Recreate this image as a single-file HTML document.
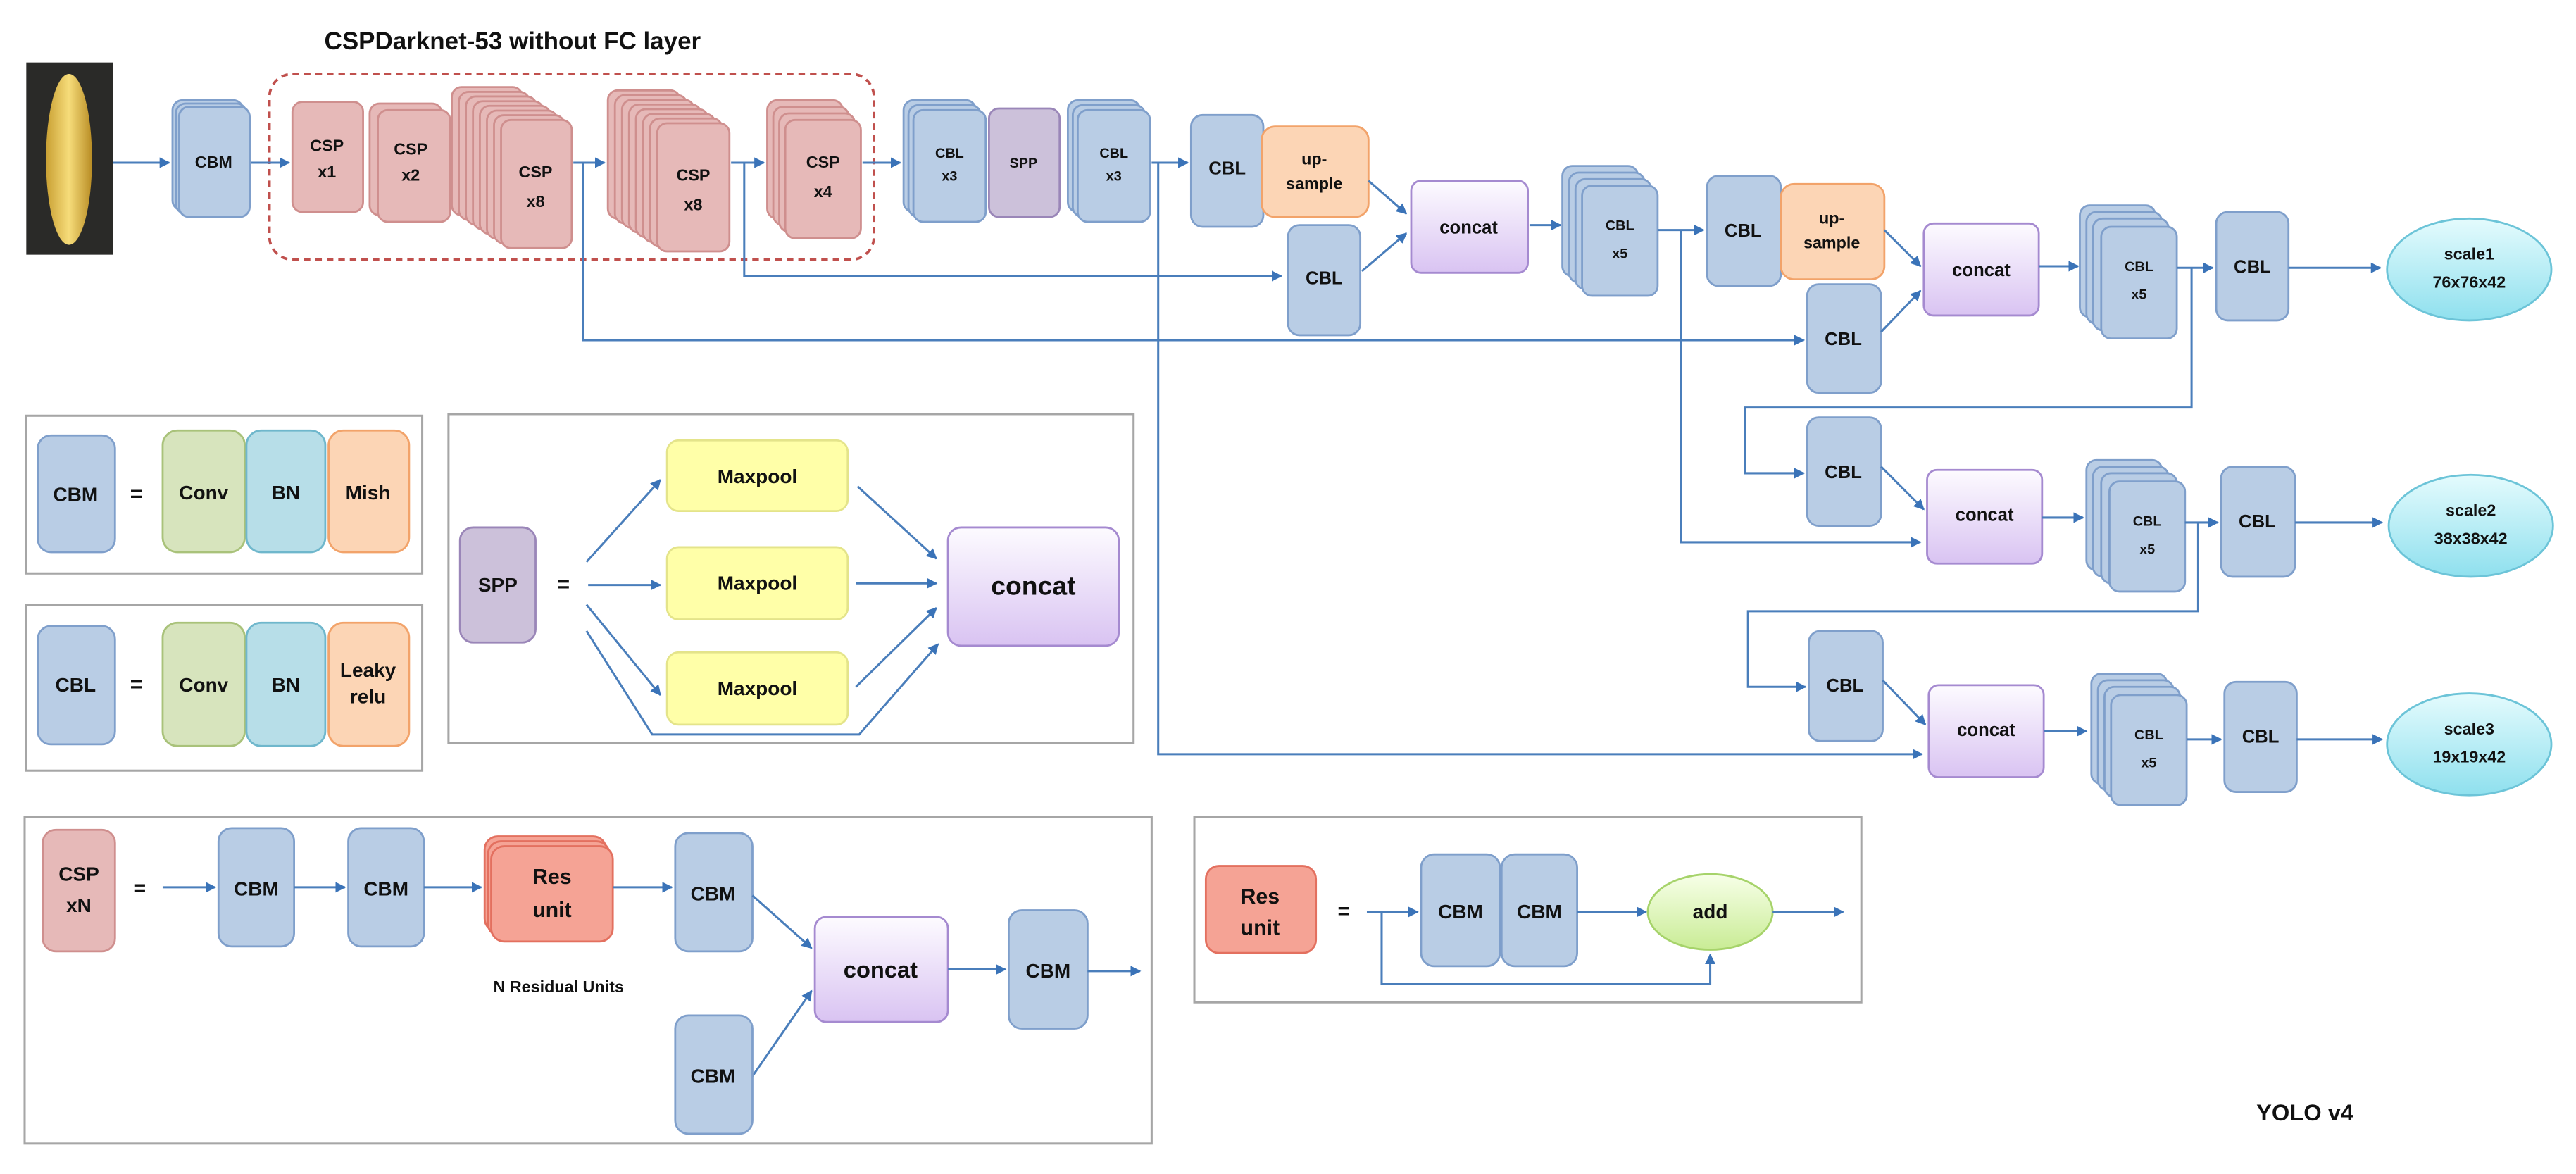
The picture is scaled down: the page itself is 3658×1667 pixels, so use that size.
<!DOCTYPE html>
<html><head><meta charset="utf-8"><style>
html,body{margin:0;padding:0;background:#fff;}
svg{display:block;}
text{font-family:"Liberation Sans",sans-serif;font-weight:bold;fill:#111;text-anchor:middle;}
.b{fill:#b9cde5;stroke:#7f9fcb;stroke-width:1.2;}
.p{fill:#e6b9b8;stroke:#cf8f8e;stroke-width:1.2;}
.s{fill:#ccc1da;stroke:#9a86b8;stroke-width:1.2;}
.o{fill:#fcd5b5;stroke:#f2a36a;stroke-width:1.2;}
.c{fill:url(#cg);stroke:#a58ad0;stroke-width:1.2;}
.m{fill:#ffffa8;stroke:#e4e48a;stroke-width:1.2;}
.g{fill:#d7e4bd;stroke:#a9c27a;stroke-width:1.2;}
.n{fill:#b7dee8;stroke:#6fb7cc;stroke-width:1.2;}
.r{fill:#f5a395;stroke:#e3705f;stroke-width:1.2;}
.a{stroke:#4a7ebb;stroke-width:1.3;fill:none;}
.aa{stroke:#4a7ebb;stroke-width:1.3;fill:none;marker-end:url(#ar);}
.panel{fill:#fff;stroke:#a6a6a6;stroke-width:1.3;}
</style></head><body>
<svg width="3658" height="1667" viewBox="0 0 1568 714.5" preserveAspectRatio="none" xmlns="http://www.w3.org/2000/svg">
<defs>
<marker id="ar" viewBox="0 0 10 10" refX="9" refY="5" markerWidth="5" markerHeight="5" orient="auto"><path d="M0,0 L10,5 L0,10 z" fill="#3a73b8"/></marker>
<linearGradient id="cg" x1="0" y1="0" x2="0" y2="1"><stop offset="0" stop-color="#fdfbff"/><stop offset="1" stop-color="#d9c3f2"/></linearGradient>
<linearGradient id="eg" x1="0" y1="0" x2="0" y2="1"><stop offset="0" stop-color="#e4fbfd"/><stop offset="1" stop-color="#8fe0ee"/></linearGradient>
<linearGradient id="ag" x1="0" y1="0" x2="0" y2="1"><stop offset="0" stop-color="#f7ffe8"/><stop offset="1" stop-color="#c9ec95"/></linearGradient>
<linearGradient id="corn" x1="0" y1="0" x2="1" y2="0"><stop offset="0" stop-color="#c9a033"/><stop offset="0.5" stop-color="#f6dc7a"/><stop offset="1" stop-color="#b98d25"/></linearGradient>
</defs>

<!-- title -->
<text x="312" y="30" font-size="15">CSPDarknet-53 without FC layer</text>
<!-- image -->
<rect x="16" y="38" width="53" height="117" fill="#2a2a28"/>
<ellipse cx="42" cy="97" rx="14" ry="52" fill="url(#corn)"/>

<!-- dashed box -->
<rect x="164" y="45" width="368" height="113" rx="14" fill="none" stroke="#c0504d" stroke-width="1.6" stroke-dasharray="4,3"/>

<!-- top arrows -->
<line class="aa" x1="69" y1="99" x2="103" y2="99"/>
<line class="aa" x1="153" y1="99" x2="176" y2="99"/>
<line class="aa" x1="349" y1="99" x2="368" y2="99"/>
<line class="aa" x1="445" y1="99" x2="465" y2="99"/>
<line class="aa" x1="525" y1="99" x2="548" y2="99"/>
<line class="aa" x1="701" y1="99" x2="723" y2="99"/>

<!-- CBM stack -->
<rect class="b" x="105" y="61" width="43" height="67" rx="6"/>
<rect class="b" x="107" y="63" width="43" height="67" rx="6"/>
<rect class="b" x="109" y="65" width="43" height="67" rx="6"/>
<text x="130" y="102" font-size="10">CBM</text>

<!-- CSP x1 -->
<rect class="p" x="178" y="62" width="43" height="67" rx="6"/>
<text x="199" y="92" font-size="10">CSP</text><text x="199" y="108" font-size="10">x1</text>
<!-- CSP x2 -->
<rect class="p" x="225" y="63" width="44" height="68" rx="6"/>
<rect class="p" x="230" y="67" width="44" height="68" rx="6"/>
<text x="250" y="94" font-size="10">CSP</text><text x="250" y="110" font-size="10">x2</text>
<!-- CSP x8 a -->
<g>
<rect class="p" x="275" y="53" width="43" height="78" rx="6"/>
<rect class="p" x="279.3" y="55.9" width="43" height="78" rx="6"/>
<rect class="p" x="283.6" y="58.7" width="43" height="78" rx="6"/>
<rect class="p" x="287.9" y="61.6" width="43" height="78" rx="6"/>
<rect class="p" x="292.1" y="64.4" width="43" height="78" rx="6"/>
<rect class="p" x="296.4" y="67.3" width="43" height="78" rx="6"/>
<rect class="p" x="300.7" y="70.1" width="43" height="78" rx="6"/>
<rect class="p" x="305" y="73" width="43" height="78" rx="6"/>
</g>
<text x="326" y="108" font-size="10">CSP</text><text x="326" y="126" font-size="10">x8</text>
<!-- CSP x8 b -->
<g>
<rect class="p" x="370" y="55" width="44" height="78" rx="6"/>
<rect class="p" x="374.3" y="57.9" width="44" height="78" rx="6"/>
<rect class="p" x="378.6" y="60.7" width="44" height="78" rx="6"/>
<rect class="p" x="382.9" y="63.6" width="44" height="78" rx="6"/>
<rect class="p" x="387.1" y="66.4" width="44" height="78" rx="6"/>
<rect class="p" x="391.4" y="69.3" width="44" height="78" rx="6"/>
<rect class="p" x="395.7" y="72.1" width="44" height="78" rx="6"/>
<rect class="p" x="400" y="75" width="44" height="78" rx="6"/>
</g>
<text x="422" y="110" font-size="10">CSP</text><text x="422" y="128" font-size="10">x8</text>
<!-- CSP x4 -->
<rect class="p" x="467" y="61" width="46" height="72" rx="6"/>
<rect class="p" x="470.7" y="65" width="46" height="72" rx="6"/>
<rect class="p" x="474.3" y="69" width="46" height="72" rx="6"/>
<rect class="p" x="478" y="73" width="46" height="72" rx="6"/>
<text x="501" y="102" font-size="10">CSP</text><text x="501" y="120" font-size="10">x4</text>

<!-- CBL x3 -->
<rect class="b" x="550" y="61" width="44" height="68" rx="6"/>
<rect class="b" x="553" y="64" width="44" height="68" rx="6"/>
<rect class="b" x="556" y="67" width="44" height="68" rx="6"/>
<text x="578" y="96" font-size="8.5">CBL</text><text x="578" y="110" font-size="8.5">x3</text>
<!-- SPP -->
<rect class="s" x="602" y="66" width="43" height="66" rx="6"/>
<text x="623" y="102" font-size="8.5">SPP</text>
<!-- CBL x3 -->
<rect class="b" x="650" y="61" width="44" height="68" rx="6"/>
<rect class="b" x="653" y="64" width="44" height="68" rx="6"/>
<rect class="b" x="656" y="67" width="44" height="68" rx="6"/>
<text x="678" y="96" font-size="8.5">CBL</text><text x="678" y="110" font-size="8.5">x3</text>

<!-- CBL, upsample -->
<rect class="b" x="725" y="70" width="44" height="68" rx="7"/>
<text x="747" y="106" font-size="11">CBL</text>
<rect class="o" x="768" y="77" width="65" height="55" rx="8"/>
<text x="800" y="100" font-size="10">up-</text><text x="800" y="115" font-size="10">sample</text>
<rect class="b" x="784" y="137" width="44" height="67" rx="7"/>
<text x="806" y="173" font-size="11">CBL</text>

<!-- skip lines -->
<polyline class="a" points="453,99 453,168 780,168" marker-end="url(#ar)"/>
<polyline class="a" points="355,99 355,207 1098,207" marker-end="url(#ar)"/>
<polyline class="a" points="705,99 705,459 1170,459" marker-end="url(#ar)"/>

<line class="aa" x1="833" y1="110" x2="856" y2="130"/>
<line class="aa" x1="829" y1="165" x2="856" y2="142"/>
<!-- concat1 -->
<rect class="c" x="859" y="110" width="71" height="56" rx="6"/>
<text x="894" y="142" font-size="11">concat</text>
<line class="aa" x1="931" y1="137" x2="950" y2="137"/>
<!-- CBL x5 -->
<rect class="b" x="951" y="101" width="46" height="67" rx="6"/>
<rect class="b" x="955" y="105" width="46" height="67" rx="6"/>
<rect class="b" x="959" y="109" width="46" height="67" rx="6"/>
<rect class="b" x="963" y="113" width="46" height="67" rx="6"/>
<text x="986" y="140" font-size="8.5">CBL</text><text x="986" y="157" font-size="8.5">x5</text>
<line class="aa" x1="1009" y1="140" x2="1037" y2="140"/>
<polyline class="a" points="1023,140 1023,330 1169,330" marker-end="url(#ar)"/>
<rect class="b" x="1039" y="107" width="45" height="67" rx="7"/>
<text x="1061" y="144" font-size="11">CBL</text>
<rect class="o" x="1084" y="112" width="63" height="58" rx="8"/>
<text x="1115" y="136" font-size="10">up-</text><text x="1115" y="151" font-size="10">sample</text>
<rect class="b" x="1100" y="173" width="45" height="66" rx="7"/>
<text x="1122" y="210" font-size="11">CBL</text>
<line class="aa" x1="1147" y1="140" x2="1169" y2="162"/>
<line class="aa" x1="1145" y1="202" x2="1169" y2="177"/>
<rect class="c" x="1171" y="136" width="70" height="56" rx="6"/>
<text x="1206" y="168" font-size="11">concat</text>
<line class="aa" x1="1241" y1="162" x2="1265" y2="162"/>
<rect class="b" x="1266" y="125" width="46" height="68" rx="6"/>
<rect class="b" x="1270" y="129" width="46" height="68" rx="6"/>
<rect class="b" x="1274" y="133" width="46" height="68" rx="6"/>
<rect class="b" x="1279" y="138" width="46" height="68" rx="6"/>
<text x="1302" y="165" font-size="8.5">CBL</text><text x="1302" y="182" font-size="8.5">x5</text>
<line class="aa" x1="1325" y1="163" x2="1347" y2="163"/>
<rect class="b" x="1349" y="129" width="44" height="66" rx="7"/>
<text x="1371" y="166" font-size="11">CBL</text>
<line class="aa" x1="1393" y1="163" x2="1449" y2="163"/>
<ellipse cx="1503" cy="164" rx="50" ry="31" fill="url(#eg)" stroke="#6cc4d8" stroke-width="1.2"/>
<text x="1503" y="158" font-size="10">scale1</text><text x="1503" y="175" font-size="10">76x76x42</text>

<!-- row2 -->
<polyline class="a" points="1334,163 1334,248 1062,248 1062,288 1098,288" marker-end="url(#ar)"/>
<rect class="b" x="1100" y="254" width="45" height="66" rx="7"/>
<text x="1122" y="291" font-size="11">CBL</text>
<line class="aa" x1="1145" y1="284" x2="1171" y2="310"/>
<rect class="c" x="1173" y="286" width="70" height="57" rx="6"/>
<text x="1208" y="317" font-size="11">concat</text>
<line class="aa" x1="1243" y1="315" x2="1268" y2="315"/>
<rect class="b" x="1270" y="280" width="46" height="67" rx="6"/>
<rect class="b" x="1274" y="284" width="46" height="67" rx="6"/>
<rect class="b" x="1279" y="288" width="46" height="67" rx="6"/>
<rect class="b" x="1284" y="293" width="46" height="67" rx="6"/>
<text x="1307" y="320" font-size="8.5">CBL</text><text x="1307" y="337" font-size="8.5">x5</text>
<line class="aa" x1="1330" y1="318" x2="1350" y2="318"/>
<rect class="b" x="1352" y="284" width="45" height="67" rx="7"/>
<text x="1374" y="321" font-size="11">CBL</text>
<line class="aa" x1="1397" y1="318" x2="1450" y2="318"/>
<ellipse cx="1504" cy="320" rx="50" ry="31" fill="url(#eg)" stroke="#6cc4d8" stroke-width="1.2"/>
<text x="1504" y="314" font-size="10">scale2</text><text x="1504" y="331" font-size="10">38x38x42</text>

<!-- row3 -->
<polyline class="a" points="1338,318 1338,372 1064,372 1064,418 1099,418" marker-end="url(#ar)"/>
<rect class="b" x="1101" y="384" width="45" height="67" rx="7"/>
<text x="1123" y="421" font-size="11">CBL</text>
<line class="aa" x1="1146" y1="414" x2="1172" y2="441"/>
<rect class="c" x="1174" y="417" width="70" height="56" rx="6"/>
<text x="1209" y="448" font-size="11">concat</text>
<line class="aa" x1="1244" y1="445" x2="1270" y2="445"/>
<rect class="b" x="1273" y="410" width="46" height="67" rx="6"/>
<rect class="b" x="1277" y="414" width="46" height="67" rx="6"/>
<rect class="b" x="1281" y="418" width="46" height="67" rx="6"/>
<rect class="b" x="1285" y="423" width="46" height="67" rx="6"/>
<text x="1308" y="450" font-size="8.5">CBL</text><text x="1308" y="467" font-size="8.5">x5</text>
<line class="aa" x1="1331" y1="450" x2="1352" y2="450"/>
<rect class="b" x="1354" y="415" width="44" height="67" rx="7"/>
<text x="1376" y="452" font-size="11">CBL</text>
<line class="aa" x1="1398" y1="450" x2="1450" y2="450"/>
<ellipse cx="1503" cy="453" rx="50" ry="31" fill="url(#eg)" stroke="#6cc4d8" stroke-width="1.2"/>
<text x="1503" y="447" font-size="10">scale3</text><text x="1503" y="464" font-size="10">19x19x42</text>

<!-- CBM legend -->
<rect class="panel" x="16" y="253" width="241" height="96"/>
<rect class="b" x="23" y="265" width="47" height="71" rx="8"/>
<text x="46" y="305" font-size="12">CBM</text>
<text x="83" y="305" font-size="13">=</text>
<rect class="g" x="99" y="262" width="50" height="74" rx="9"/>
<text x="124" y="304" font-size="12">Conv</text>
<rect class="n" x="150" y="262" width="48" height="74" rx="9"/>
<text x="174" y="304" font-size="12">BN</text>
<rect class="o" x="200" y="262" width="49" height="74" rx="9"/>
<text x="224" y="304" font-size="12">Mish</text>

<!-- CBL legend -->
<rect class="panel" x="16" y="368" width="241" height="101"/>
<rect class="b" x="23" y="381" width="47" height="72" rx="8"/>
<text x="46" y="421" font-size="12">CBL</text>
<text x="83" y="421" font-size="13">=</text>
<rect class="g" x="99" y="379" width="50" height="75" rx="9"/>
<text x="124" y="421" font-size="12">Conv</text>
<rect class="n" x="150" y="379" width="48" height="75" rx="9"/>
<text x="174" y="421" font-size="12">BN</text>
<rect class="o" x="200" y="379" width="49" height="75" rx="9"/>
<text x="224" y="412" font-size="12">Leaky</text><text x="224" y="428" font-size="12">relu</text>

<!-- SPP legend -->
<rect class="panel" x="273" y="252" width="417" height="200"/>
<rect class="s" x="280" y="321" width="46" height="70" rx="8"/>
<text x="303" y="360" font-size="12">SPP</text>
<text x="343" y="360" font-size="13">=</text>
<rect class="m" x="406" y="268" width="110" height="43" rx="7"/>
<text x="461" y="294" font-size="12">Maxpool</text>
<rect class="m" x="406" y="333" width="110" height="44" rx="7"/>
<text x="461" y="359" font-size="12">Maxpool</text>
<rect class="m" x="406" y="397" width="110" height="44" rx="7"/>
<text x="461" y="423" font-size="12">Maxpool</text>
<rect class="c" x="577" y="321" width="104" height="72" rx="8"/>
<text x="629" y="362" font-size="16">concat</text>
<line class="aa" x1="357" y1="342" x2="402" y2="292"/>
<line class="aa" x1="358" y1="356" x2="402" y2="356"/>
<line class="aa" x1="357" y1="368" x2="402" y2="423"/>
<polyline class="a" points="357,384 397,447 523,447 571,392" marker-end="url(#ar)"/>
<line class="aa" x1="522" y1="296" x2="570" y2="340"/>
<line class="aa" x1="521" y1="355" x2="570" y2="355"/>
<line class="aa" x1="521" y1="418" x2="570" y2="370"/>

<!-- CSP legend -->
<rect class="panel" x="15" y="497" width="686" height="199"/>
<rect class="p" x="26" y="505" width="44" height="74" rx="8"/>
<text x="48" y="536" font-size="12">CSP</text><text x="48" y="555" font-size="12">xN</text>
<text x="85" y="545" font-size="13">=</text>
<line class="aa" x1="99" y1="540" x2="131" y2="540"/>
<rect class="b" x="133" y="504" width="46" height="72" rx="8"/>
<text x="156" y="545" font-size="12">CBM</text>
<line class="aa" x1="179" y1="540" x2="210" y2="540"/>
<rect class="b" x="212" y="504" width="46" height="72" rx="8"/>
<text x="235" y="545" font-size="12">CBM</text>
<line class="aa" x1="258" y1="540" x2="293" y2="540"/>
<rect class="r" x="295" y="509" width="74" height="58" rx="8"/>
<rect class="r" x="297" y="512" width="74" height="58" rx="8"/>
<rect class="r" x="299" y="515" width="74" height="58" rx="8"/>
<text x="336" y="538" font-size="13">Res</text><text x="336" y="558" font-size="13">unit</text>
<line class="aa" x1="373" y1="540" x2="409" y2="540"/>
<rect class="b" x="411" y="507" width="47" height="72" rx="8"/>
<text x="434" y="548" font-size="12">CBM</text>
<text x="340" y="604" font-size="10">N Residual Units</text>
<line class="aa" x1="458" y1="545" x2="494" y2="577"/>
<line class="aa" x1="458" y1="655" x2="494" y2="603"/>
<rect class="c" x="496" y="558" width="81" height="64" rx="7"/>
<text x="536" y="595" font-size="14">concat</text>
<line class="aa" x1="577" y1="590" x2="612" y2="590"/>
<rect class="b" x="614" y="554" width="48" height="72" rx="8"/>
<text x="638" y="595" font-size="12">CBM</text>
<line class="aa" x1="662" y1="591" x2="694" y2="591"/>
<rect class="b" x="411" y="618" width="47" height="72" rx="8"/>
<text x="434" y="659" font-size="12">CBM</text>

<!-- Res unit legend -->
<rect class="panel" x="727" y="497" width="406" height="113"/>
<rect class="r" x="734" y="527" width="67" height="53" rx="8"/>
<text x="767" y="550" font-size="13">Res</text><text x="767" y="569" font-size="13">unit</text>
<text x="818" y="559" font-size="13">=</text>
<line class="aa" x1="832" y1="555" x2="863" y2="555"/>
<polyline class="a" points="841,555 841,599 1041,599 1041,581" marker-end="url(#ar)"/>
<rect class="b" x="865" y="520" width="48" height="68" rx="8"/>
<text x="889" y="559" font-size="12">CBM</text>
<rect class="b" x="914" y="520" width="46" height="68" rx="8"/>
<text x="937" y="559" font-size="12">CBM</text>
<line class="aa" x1="960" y1="555" x2="1002" y2="555"/>
<ellipse cx="1041" cy="555" rx="38" ry="23" fill="url(#ag)" stroke="#a6d36a" stroke-width="1.2"/>
<text x="1041" y="559" font-size="12">add</text>
<line class="aa" x1="1079" y1="555" x2="1122" y2="555"/>

<text x="1403" y="682" font-size="14">YOLO v4</text>
</svg>
</body></html>
